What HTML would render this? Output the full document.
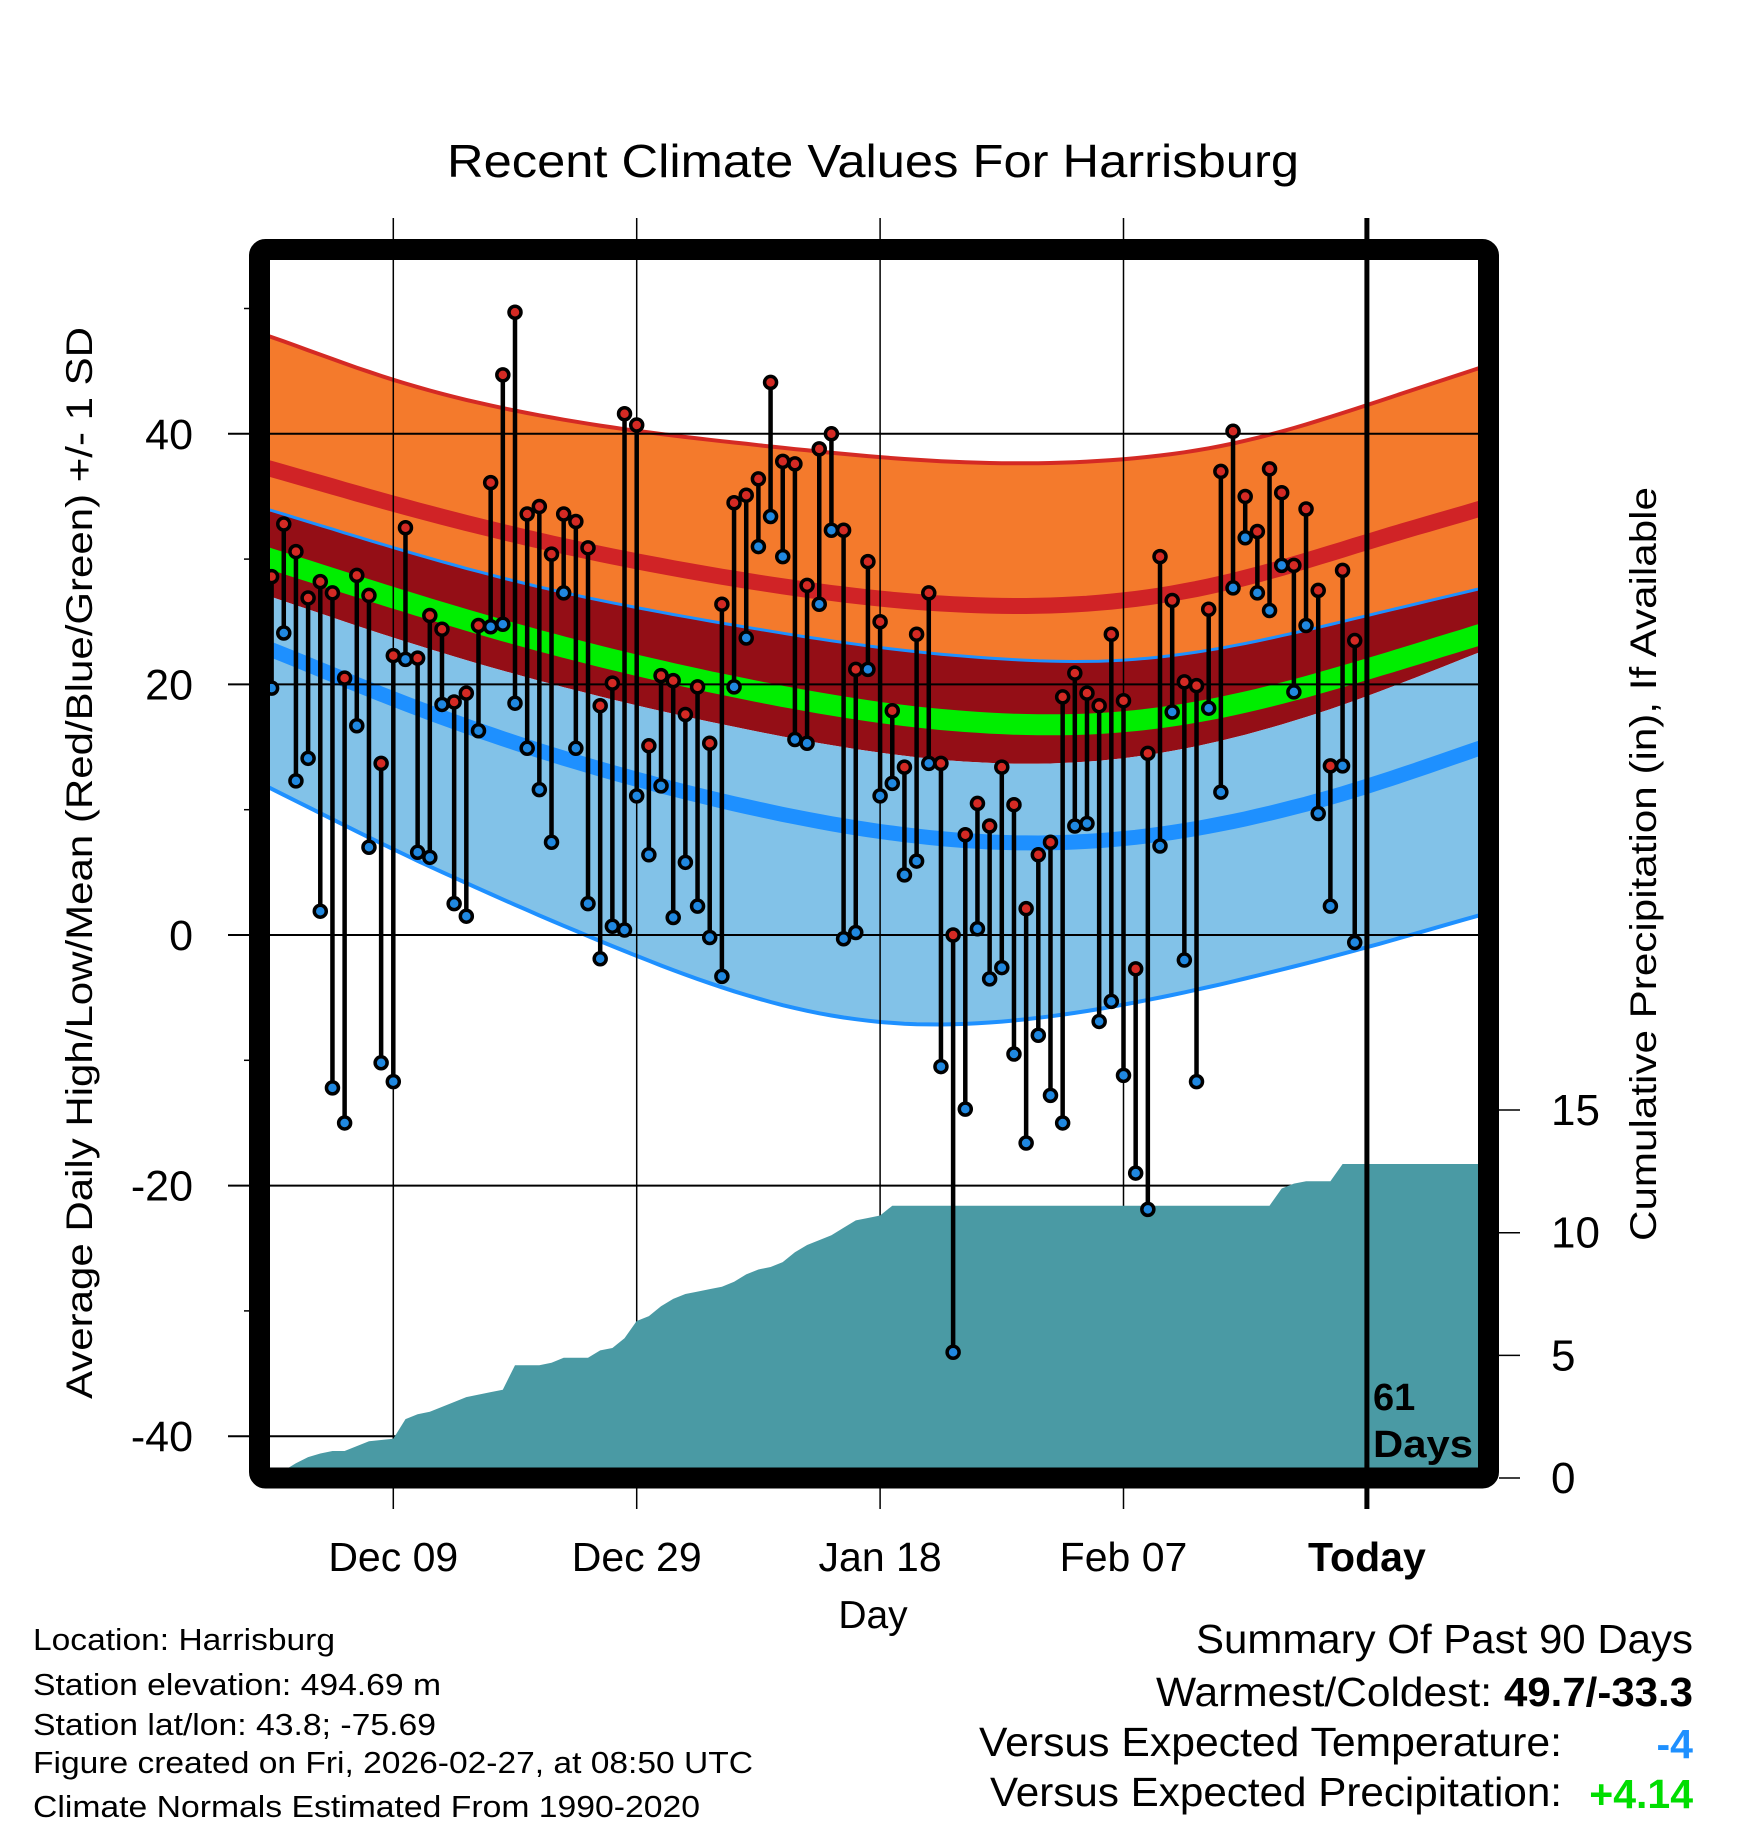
<!DOCTYPE html>
<html><head><meta charset="utf-8"><style>
html,body{margin:0;padding:0;background:#fff;}
svg{display:block;font-family:"Liberation Sans",sans-serif;}
</style></head><body>
<svg id="chart" width="1748" height="1828" viewBox="0 0 1748 1828" xmlns="http://www.w3.org/2000/svg">
<defs><clipPath id="plotclip"><rect x="270" y="260" width="1208" height="1208"/></clipPath></defs>
<rect x="0" y="0" width="1748" height="1828" fill="#fff"/>
<text x="873" y="177" font-size="46" text-anchor="middle" textLength="852" lengthAdjust="spacingAndGlyphs">Recent Climate Values For Harrisburg</text>
<g id="bands" clip-path="url(#plotclip)"></g>
<g id="grid"></g>
<g id="precip" clip-path="url(#plotclip)"></g>
<g id="obs"></g>
<g id="frame"></g>
<g id="labels"></g>
<text transform="translate(92,863) rotate(-90)" font-size="37" text-anchor="middle" textLength="1072" lengthAdjust="spacingAndGlyphs">Average Daily High/Low/Mean (Red/Blue/Green) +/- 1 SD</text>
<text transform="translate(1656,864) rotate(-90)" font-size="37" text-anchor="middle" textLength="754" lengthAdjust="spacingAndGlyphs">Cumulative Precipitation (in), If Available</text>
<text x="873" y="1628" font-size="39" text-anchor="middle">Day</text>
<text x="1373" y="1410" font-size="38" font-weight="bold">61</text>
<text x="1373" y="1457" font-size="38" font-weight="bold" textLength="100" lengthAdjust="spacingAndGlyphs">Days</text>
<g font-size="31">
<text x="33" y="1650" textLength="302" lengthAdjust="spacingAndGlyphs">Location: Harrisburg</text>
<text x="33" y="1695" textLength="408" lengthAdjust="spacingAndGlyphs">Station elevation: 494.69 m</text>
<text x="33" y="1735" textLength="403" lengthAdjust="spacingAndGlyphs">Station lat/lon: 43.8; -75.69</text>
<text x="33" y="1773" textLength="720" lengthAdjust="spacingAndGlyphs">Figure created on Fri, 2026-02-27, at 08:50 UTC</text>
<text x="33" y="1817" textLength="667" lengthAdjust="spacingAndGlyphs">Climate Normals Estimated From 1990-2020</text>
</g>
<g font-size="41">
<text x="1693" y="1653" text-anchor="end" textLength="497" lengthAdjust="spacingAndGlyphs">Summary Of Past 90 Days</text>
<text x="1492" y="1706" text-anchor="end" textLength="336" lengthAdjust="spacingAndGlyphs">Warmest/Coldest:</text>
<text x="1693" y="1706" text-anchor="end" font-weight="bold" textLength="189" lengthAdjust="spacingAndGlyphs">49.7/-33.3</text>
<text x="1562" y="1756" text-anchor="end" textLength="583" lengthAdjust="spacingAndGlyphs">Versus Expected Temperature:</text>
<text x="1693" y="1758" text-anchor="end" font-weight="bold" fill="#1e90ff">-4</text>
<text x="1562" y="1806" text-anchor="end" textLength="572" lengthAdjust="spacingAndGlyphs">Versus Expected Precipitation:</text>
<text x="1693" y="1808" text-anchor="end" font-weight="bold" fill="#00dd00">+4.14</text>
</g>
</svg>
<script>
const NS="http://www.w3.org/2000/svg";
// Observations (day 0 = Nov 29)
const highs=[28.6,32.8,30.6,26.9,28.2,27.3,20.5,28.7,27.1,13.7,22.3,32.5,22.1,25.5,24.4,18.6,19.3,24.7,36.1,44.7,49.7,33.6,34.2,30.4,33.6,33.0,30.9,18.3,20.1,41.6,40.7,15.1,20.7,20.3,17.6,19.8,15.3,26.4,34.5,35.1,36.4,44.1,37.8,37.6,27.9,38.8,40.0,32.3,21.2,29.8,25.0,17.9,13.4,24.0,27.3,13.7,0.0,8.0,10.5,8.7,13.4,10.4,2.1,6.4,7.4,19.0,20.9,19.3,18.3,24.0,18.7,-2.7,14.5,30.2,26.7,20.2,19.9,26.0,37.0,40.2,35.0,32.2,37.2,35.3,29.5,34.0,27.5,13.5,29.1,23.5];
const lows=[19.7,24.1,12.3,14.1,1.9,-12.2,-15.0,16.7,7.0,-10.2,-11.7,22.0,6.6,6.2,18.4,2.5,1.5,16.3,24.6,24.8,18.5,14.9,11.6,7.4,27.3,14.9,2.5,-1.9,0.7,0.4,11.1,6.4,11.9,1.4,5.8,2.3,-0.2,-3.3,19.8,23.7,31.0,33.4,30.2,15.6,15.3,26.4,32.3,-0.3,0.2,21.2,11.1,12.1,4.8,5.9,13.7,-10.5,-33.3,-13.9,0.5,-3.5,-2.6,-9.5,-16.6,-8.0,-12.8,-15.0,8.7,8.9,-6.9,-5.3,-11.2,-19.0,-21.9,7.1,17.8,-2.0,-11.7,18.1,11.4,27.7,31.7,27.3,25.9,29.5,19.4,24.7,9.7,2.3,13.5,-0.6];
const precip=[0.1,0.3,0.6,0.85,1.0,1.1,1.1,1.3,1.5,1.55,1.6,2.4,2.6,2.7,2.9,3.1,3.3,3.4,3.5,3.6,4.6,4.6,4.6,4.7,4.9,4.9,4.9,5.2,5.3,5.7,6.4,6.6,7.0,7.3,7.5,7.6,7.7,7.8,8.0,8.3,8.5,8.6,8.8,9.2,9.5,9.7,9.9,10.2,10.5,10.6,10.7,11.1,11.1,11.1,11.1,11.1,11.1,11.1,11.1,11.1,11.1,11.1,11.1,11.1,11.1,11.1,11.1,11.1,11.1,11.1,11.1,11.1,11.1,11.1,11.1,11.1,11.1,11.1,11.1,11.1,11.1,11.1,11.1,11.8,12.0,12.1,12.1,12.1,12.8,12.8];
// Normals at anchor days 0,10,...,100
const normDays=[0,10,20,30,40,50,60,70,80,90,100];
const highPlus=[47.8,44.2,41.8,40.2,39.1,38.1,37.6,37.9,39.3,42.3,45.5];
const highMean=[37.2,34.4,31.9,29.8,28.1,26.8,26.2,26.6,28.4,31.4,34.2];
const highMinus=[33.9,30.9,28.2,26.1,24.4,22.9,22.0,21.8,23.2,25.5,27.8];
const meanT=[30.0,26.9,24.0,21.5,19.4,17.7,16.8,16.9,18.5,21.2,24.2];
const lowPlus=[27.0,23.7,20.8,18.3,16.2,14.5,13.6,14.0,15.9,19.0,22.9];
const lowMean=[22.8,18.8,15.3,12.4,10.0,8.2,7.3,7.6,9.2,11.8,15.2];
const lowMinus=[11.7,6.8,2.4,-1.7,-5.2,-7.1,-7.0,-5.6,-3.5,-1.0,1.8];
const xTickDays=[10,30,50,70,90];
const xTickLabels=["Dec 09","Dec 29","Jan 18","Feb 07","Today"];
const yTicks=[40,20,0,-20,-40];
const yMinor=[50,30,10,-10,-30];
const pTicks=[0,5,10,15];
const xS=d=>271.6+12.17*d;
const yT=t=>935-12.53*t;
const yP=p=>1478-24.53*p;
function interp(arr,d){
  const s=(d-normDays[0])/10;let i=Math.floor(s);i=Math.max(0,Math.min(normDays.length-2,i));const u=s-i;
  const p0=i>0?arr[i-1]:2*arr[0]-arr[1],p1=arr[i],p2=arr[i+1],p3=i+2<arr.length?arr[i+2]:2*arr[arr.length-1]-arr[arr.length-2];
  return 0.5*((2*p1)+(-p0+p2)*u+(2*p0-5*p1+4*p2-p3)*u*u+(-p0+3*p1-3*p2+p3)*u*u*u);
}
function smoothVal(arr,d){let s=0,n=0;for(let k=-6;k<=6;k+=1){s+=interp(arr,d+k);n++;}return s/n;}
function samples(arr){const pts=[];for(let d=-2;d<=101;d+=1)pts.push([xS(d),yT(smoothVal(arr,d))]);return pts;}
function mk(tag,attrs,parent){const e=document.createElementNS(NS,tag);for(const k in attrs)e.setAttribute(k,attrs[k]);parent.appendChild(e);return e;}
function band(top,bot,fill,name,parent){
  const a=samples(top),b=samples(bot).reverse();
  const e=mk('path',{d:'M'+a.concat(b).map(p=>p[0].toFixed(1)+','+p[1].toFixed(1)).join('L')+'Z',fill:fill},parent);
  
  
}
function line(arr,color,w,name,parent){
  const e=mk('path',{d:'M'+samples(arr).map(p=>p[0].toFixed(1)+','+p[1].toFixed(1)).join('L'),fill:'none',stroke:color,'stroke-width':w},parent);
  
  
}
const B=document.getElementById('bands');
band(highPlus,highMinus,'#f47a2c','high-sd-band',B);
band(highMinus,lowPlus,'#940e16','mid-band',B);
band(lowPlus,lowMinus,'#82c2e8','low-sd-band',B);
line(highPlus,'#d42a24',4,'high-plus-sd-line',B);
line(highMinus,'#1e90ff',3,'high-minus-sd-line',B);
line(lowMinus,'#1e90ff',4,'low-minus-sd-line',B);
line(highMean,'#d02326',16,'normal-high-line',B);
line(lowMean,'#1e90ff',15,'normal-low-line',B);
line(meanT,'#00ee00',21,'normal-mean-line',B);
// grid
const G=document.getElementById('grid');
yTicks.forEach(t=>{
  const e=mk('line',{x1:228,x2:1478,y1:yT(t),y2:yT(t),stroke:'#000','stroke-width':2},G);
  
  
});
yMinor.forEach(t=>{
  const e=mk('line',{x1:244,x2:250,y1:yT(t),y2:yT(t),stroke:'#000','stroke-width':1.5},G);
  
  
});
xTickDays.forEach((d,i)=>{
  const e=mk('line',{x1:xS(d),x2:xS(d),y1:218,y2:1509,stroke:'#000','stroke-width':1.5},G);
  
  
});
// precip
const P=document.getElementById('precip');
let pd='M'+xS(0)+','+yP(0);
precip.forEach((v,i)=>{pd+='L'+xS(i).toFixed(1)+','+yP(v).toFixed(1);});
pd+='L1480,'+yP(precip[precip.length-1]).toFixed(1)+'L1480,1470L'+xS(0)+',1470Z';
const pa=mk('path',{d:pd,fill:'#4a9aa4'},P);


// observations
const O=document.getElementById('obs');
highs.forEach((h,i)=>{
  const s=mk('line',{x1:xS(i),x2:xS(i),y1:yT(h),y2:yT(lows[i]),stroke:'#000','stroke-width':4.5},O);
  
  
});
highs.forEach((h,i)=>{
  const c1=mk('circle',{cx:xS(i),cy:yT(lows[i]),r:6,fill:'#2088e0',stroke:'#000','stroke-width':3.5},O);
  
  
  const c2=mk('circle',{cx:xS(i),cy:yT(h),r:6,fill:'#d42a24',stroke:'#000','stroke-width':3.5},O);
  
  
});
// frame
const F=document.getElementById('frame');
const tl=mk('line',{x1:xS(90),x2:xS(90),y1:218,y2:1509,stroke:'#000','stroke-width':5},F);


const fr=mk('rect',{x:259.5,y:249.5,width:1229,height:1228.5,rx:6,fill:'none',stroke:'#000','stroke-width':21},F);


pTicks.forEach(p=>{
  const e=mk('line',{x1:1499,x2:1520,y1:yP(p),y2:yP(p),stroke:'#000','stroke-width':1.5},F);
  
  
});
// labels
const L=document.getElementById('labels');
yTicks.forEach(t=>{
  const e=mk('text',{x:193,y:yT(t)+15,'font-size':43,'text-anchor':'end'},L);e.textContent=String(t);
  
  
});
pTicks.forEach(p=>{
  const e=mk('text',{x:1551,y:yP(p)+15,'font-size':44},L);e.textContent=String(p);
  
  
});
xTickDays.forEach((d,i)=>{
  const last=i===xTickDays.length-1;
  const e=mk('text',{x:xS(d),y:1571,'font-size':41,'text-anchor':'middle','font-weight':last?'bold':'normal'},L);e.textContent=xTickLabels[i];
  
  
});
</script>
</body></html>
